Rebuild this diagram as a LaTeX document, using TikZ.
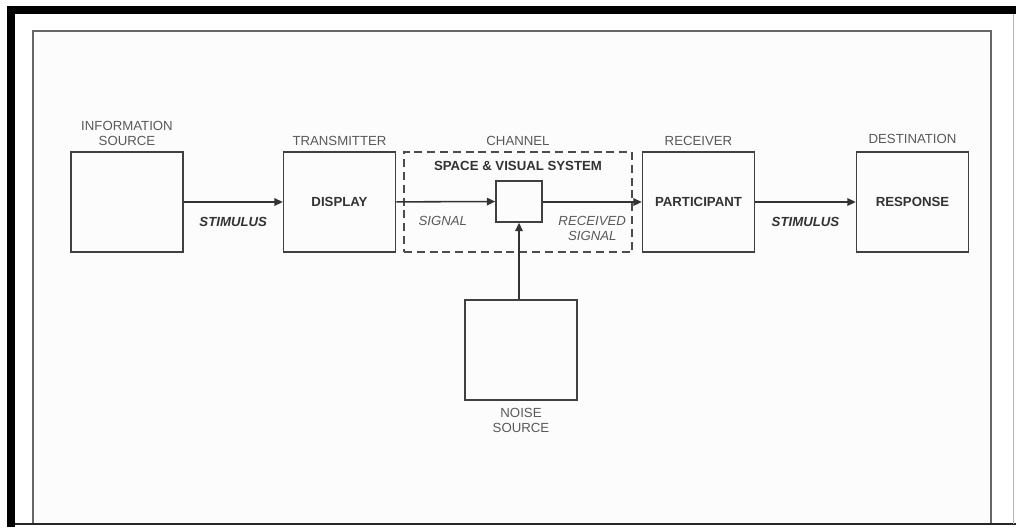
\documentclass[tikz,border=0pt]{standalone}
\usepackage{fontspec}
\setmainfont{Liberation Sans}
\usetikzlibrary{positioning,arrows.meta}

\begin{document}
\begin{tikzpicture}[x=0.25mm,y=-0.25mm,
    font=\fontsize{9.4}{10.7}\selectfont,
    box/.style={draw=black!75,line width=1.1pt,minimum width=28mm,minimum height=25mm,
        inner sep=0pt,text=black!80,font=\fontsize{9.4}{10.7}\selectfont\bfseries},
    lbl/.style={inner sep=0pt,align=center,text=black!65},
    sig/.style={inner sep=0pt,align=center,text=black!65,font=\fontsize{9.4}{10.7}\selectfont\itshape},
    stim/.style={inner sep=0pt,text=black!80,font=\fontsize{9.4}{10.7}\selectfont\bfseries\itshape},
    arr/.style={draw=black!80,line width=1.1pt,-{Triangle[length=2.1mm,width=1.9mm]}}]

\useasboundingbox (0,0) rectangle (1016,527);

% ===== Khung =====
\fill[black!1] (33,31) rectangle (991,524);
\draw[black!60,line width=1.4pt] (33,31) rectangle (991,524);
\fill[black] (7,6) rectangle (1016,14);
\fill[black] (7,6) rectangle (15,527);
\draw[black!85,line width=1.2pt] (15,524) -- (1016,524);
\draw[black!30,line width=0.5pt] (1013,14) -- (1013,524);

% ===== Cac khoi =====
\node[box] (src) at (127,202) {};
\node[box] (tx) at (339.5,202) {DISPLAY};
\node[box,draw=black!70,dash pattern=on 2mm off 1.2mm,minimum width=57mm] (chan) at (518,202) {};
\node[box,minimum width=11.5mm,minimum height=10.25mm] (sv) at (519,201.5) {};
\node[box] (rx) at (698.5,202) {PARTICIPANT};
\node[box] (dst) at (912.5,202) {RESPONSE};
\node[box] (noise) at (521,350) {};

% ===== Nhan =====
\node[lbl,above=1.3mm of src] (srct) {INFORMATION\\SOURCE};
\node[lbl,above=1.3mm of tx] (txt) {TRANSMITTER};
\node[lbl,above=1.3mm of chan] (chant) {CHANNEL};
\node[lbl,above=1.3mm of rx] (rxt) {RECEIVER};
\node[lbl,above=1.8mm of dst] (dstt) {DESTINATION};
\node[lbl,below=1.8mm of noise] (noiset) {NOISE\\SOURCE};
\node[inner sep=0pt,text=black!80,font=\fontsize{9.4}{10.7}\selectfont\bfseries,
    below=2.5mm of chan.north] (svt) {SPACE \& VISUAL SYSTEM};

% ===== Mui ten =====
\draw[arr] (src) -- node[stim,below=3.6mm] (stim1) {STIMULUS} (tx);
\draw[arr] (tx) -- node[sig,below=3.4mm,pos=0.47] (sigt) {SIGNAL} (sv);
\draw[arr] (sv.east |- rx.west) -- node[sig,below=3.4mm] (rsigt) {RECEIVED\\SIGNAL} (rx);
\draw[arr] (rx) -- node[stim,below=3.6mm] (stim2) {STIMULUS} (dst);
\draw[arr] (sv.south |- noise.north) -- (sv.south);

\end{tikzpicture}
\end{document}
